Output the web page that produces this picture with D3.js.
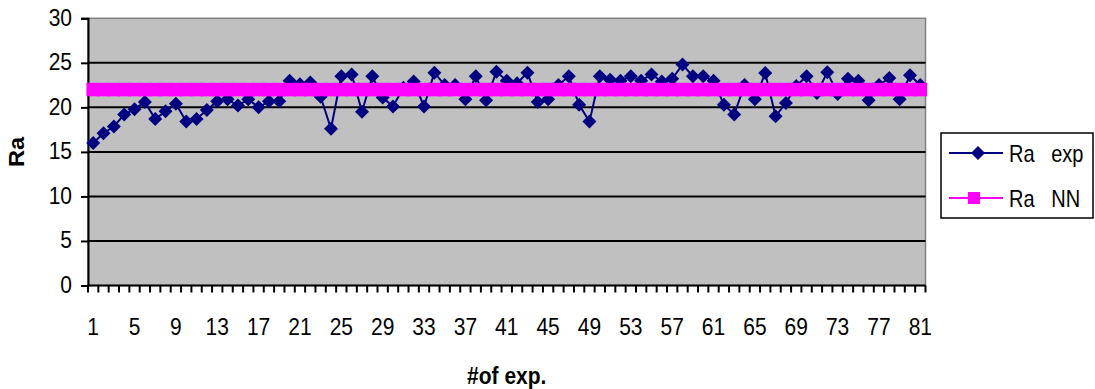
<!DOCTYPE html>
<html><head><meta charset="utf-8">
<script src="https://cdn.jsdelivr.net/npm/d3@7/dist/d3.min.js"></script>
<style>
html,body{margin:0;padding:0;background:#fff;}
svg{display:block;font-family:"Liberation Sans",Arial,sans-serif;}
</style></head>
<body>
<svg id="c" width="1095" height="389"></svg>
<script>
const categories = d3.range(1, 82);
const raExp = [16.0,17.1,17.85,19.2,19.8,20.6,18.7,19.55,20.4,18.4,
  18.7,19.7,20.7,20.9,20.2,20.9,20.0,20.7,20.7,23.0,
  22.6,22.8,21.2,17.6,23.5,23.7,19.5,23.5,21.1,20.1,
  22.2,22.9,20.1,23.9,22.5,22.5,20.9,23.5,20.8,24.0,
  23.0,22.7,23.9,20.6,20.9,22.5,23.5,20.3,18.4,23.5,
  23.1,23.0,23.5,23.0,23.7,22.9,23.2,24.8,23.5,23.5,
  23.0,20.3,19.2,22.5,20.9,23.85,19.0,20.5,22.4,23.5,
  21.6,23.95,21.5,23.2,23.0,20.8,22.5,23.3,20.9,23.6,22.5];
const raNN = [22,22,22,22,22,22,22,22,22,22,22,22,22,22,22,22,22,22,22,22,
  22,22,22,22,22,22,22,22,22,22,22,22,22,22,22,22,22,22,22,22,
  22,22,22,22,22,22,22,22,22,22,22,22,22,22,22,22,22,22,22,22,
  22,22,22,22,22,22,22,22,22,22,22,22,22,22,22,22,22,22,22,22,22];
const yTicks = [0,5,10,15,20,25,30];
const xTickLabels = [1,5,9,13,17,21,25,29,33,37,41,45,49,53,57,61,65,69,73,77,81];
const seriesNames = ["Ra   exp", "Ra   NN"];

const svg = d3.select("#c");
const L = 88, R = 925.5, T = 18.3, B = 285.5;
const x = d3.scaleBand().domain(categories).range([L, R]);
const y = d3.scaleLinear().domain([0, 30]).range([B, T]);
const cx = d => x(d) + x.bandwidth() / 2;

// plot background
svg.append("rect").attr("x", L).attr("y", T).attr("width", R - L).attr("height", B - T)
  .attr("fill", "#c0c0c0").attr("stroke", "#808080").attr("stroke-width", 1.5);

// gridlines
svg.append("g").selectAll("line").data(yTicks.filter(v => v > 0 && v < 30)).join("line")
  .attr("x1", L).attr("x2", R).attr("y1", d => y(d)).attr("y2", d => y(d))
  .attr("stroke", "#000").attr("stroke-width", 2);

// y axis
const yAxis = d3.axisLeft(y).tickValues(yTicks).tickSize(7).tickFormat("");
const gy = svg.append("g").attr("transform", `translate(${L},0)`).call(yAxis);
gy.select(".domain").attr("stroke", "#000").attr("stroke-width", 2);
gy.selectAll(".tick line").attr("stroke", "#000").attr("stroke-width", 2);
svg.append("g").selectAll("text").data(yTicks).join("text")
  .attr("transform", d => `translate(72,${y(d) + 7.5}) scale(1,1.12)`)
  .attr("text-anchor", "end").attr("font-size", 21).attr("fill", "#000").text(d => d);

// x axis: ticks at category boundaries
const gx = svg.append("g");
gx.append("line").attr("x1", L).attr("x2", R).attr("y1", B).attr("y2", B)
  .attr("stroke", "#000").attr("stroke-width", 2);
const bounds = categories.map(d => x(d)).concat([R]);
gx.selectAll("line.tk").data(bounds).join("line").attr("class", "tk")
  .attr("x1", d => d).attr("x2", d => d).attr("y1", B).attr("y2", B + 7)
  .attr("stroke", "#000").attr("stroke-width", 2);
gx.selectAll("text").data(xTickLabels).join("text")
  .attr("transform", d => `translate(${cx(d)},334.5) scale(1,1.12)`).attr("text-anchor", "middle")
  .attr("font-size", 21).attr("fill", "#000").text(d => d);

// series Ra exp
const line = d3.line().x((d, i) => cx(categories[i])).y(d => y(d));
svg.append("path").datum(raExp).attr("d", line).attr("fill", "none")
  .attr("stroke", "#000080").attr("stroke-width", 2);
const dia = 7;
svg.append("g").selectAll("path").data(raExp).join("path")
  .attr("d", (d, i) => { const px = cx(categories[i]), py = y(d);
    return `M${px},${py - dia}L${px + dia},${py}L${px},${py + dia}L${px - dia},${py}Z`; })
  .attr("fill", "#000080");

// series Ra NN
svg.append("path").datum(raNN).attr("d", line).attr("fill", "none")
  .attr("stroke", "#ff00ff").attr("stroke-width", 2);
const sq = 13.5;
svg.append("g").selectAll("rect").data(raNN).join("rect")
  .attr("x", (d, i) => cx(categories[i]) - sq / 2).attr("y", d => y(d) - sq / 2)
  .attr("width", sq).attr("height", sq).attr("fill", "#ff00ff");

// axis titles
svg.append("text").attr("transform", `translate(24,${(T + B) / 2}) rotate(-90) scale(1.08,1)`)
  .attr("text-anchor", "middle").attr("font-size", 22).attr("font-weight", "bold").text("Ra");
svg.append("text").attr("transform", `translate(${(L + R) / 2},384) scale(1,1.1)`).attr("text-anchor", "middle")
  .attr("font-size", 21).attr("font-weight", "bold").text("#of exp.");

// legend
const lg = svg.append("g");
lg.append("rect").attr("x", 941).attr("y", 133).attr("width", 152).attr("height", 85)
  .attr("fill", "#fff").attr("stroke", "#000").attr("stroke-width", 1.5);
const ly = [153, 198];
lg.append("line").attr("x1", 949).attr("x2", 1003).attr("y1", ly[0]).attr("y2", ly[0])
  .attr("stroke", "#000080").attr("stroke-width", 2);
lg.append("path").attr("d", `M978,${ly[0] - dia}L${978 + dia},${ly[0]}L978,${ly[0] + dia}L${978 - dia},${ly[0]}Z`)
  .attr("fill", "#000080");
lg.append("line").attr("x1", 949).attr("x2", 1003).attr("y1", ly[1]).attr("y2", ly[1])
  .attr("stroke", "#ff00ff").attr("stroke-width", 2);
lg.append("rect").attr("x", 974 - 6).attr("y", ly[1] - 6).attr("width", 12).attr("height", 12)
  .attr("fill", "#ff00ff");
lg.selectAll("text").data(seriesNames).join("text")
  .attr("transform", (d, i) => `translate(1009,${ly[i] + 9}) scale(1,1.2)`).attr("font-size", 20)
  .attr("xml:space", "preserve").style("white-space", "pre").text(d => d);
</script>
</body></html>
